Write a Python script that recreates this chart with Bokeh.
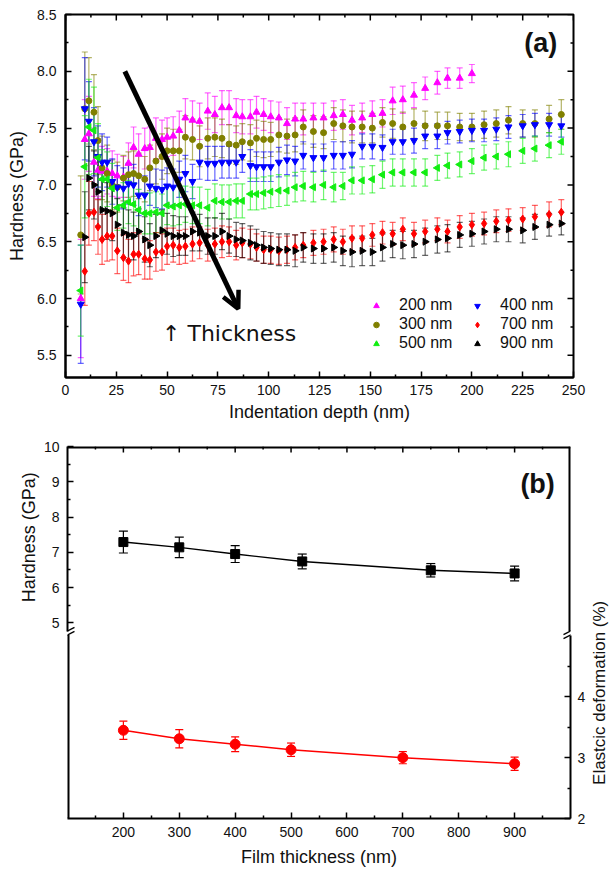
import math
from bokeh.plotting import figure
from bokeh.models import (ColumnDataSource, Range1d, LinearAxis, FixedTicker,
                          PrintfTickFormatter, Whisker, TeeHead, Legend,
                          LegendItem, Arrow, OpenHead, Label)
from bokeh.layouts import column, row
from bokeh.embed import file_html
from bokeh.resources import INLINE

# ---------------- panel (a) data ----------------
depth = [7.5, 9.5, 11.5, 14, 16, 18, 20.5, 23, 25.5, 28.5,
         31, 33.5, 36, 39, 41.5, 44.5, 47.5, 50, 53, 56,
         59, 62.5, 66, 70, 73.5, 77, 80.5, 84, 87, 91,
         94, 97.5, 101, 105, 109, 113, 117, 122, 127, 132,
         136.5, 141, 146, 151, 156, 161, 166, 171.5, 177, 183,
         188, 194, 200, 206, 212, 218, 225, 231, 238, 244]

h_200 = [6.00, 7.40, 7.45, 7.20, 7.13, 7.12, 7.12, 7.10, 7.08, 7.07,
         7.19, 7.33, 7.27, 7.32, 7.33, 7.41, 7.40, 7.42, 7.43, 7.48,
         7.59, 7.57, 7.56, 7.65, 7.62, 7.68, 7.68, 7.61, 7.60, 7.60,
         7.64, 7.62, 7.60, 7.59, 7.54, 7.58, 7.58, 7.59, 7.59, 7.61,
         7.62, 7.57, 7.59, 7.62, 7.63, 7.74, 7.75, 7.79, 7.85, 7.90,
         7.94, 7.94, 7.98]
e_200 = [0.52, 0.35, 0.33, 0.30, 0.25, 0.22, 0.20, 0.20, 0.19, 0.18,
         0.18, 0.18, 0.18, 0.18, 0.18, 0.18, 0.17, 0.17, 0.17, 0.17,
         0.17, 0.17, 0.16, 0.16, 0.16, 0.15, 0.15, 0.15, 0.15, 0.15,
         0.14, 0.14, 0.14, 0.14, 0.14, 0.14, 0.14, 0.13, 0.13, 0.13,
         0.13, 0.13, 0.13, 0.12, 0.12, 0.12, 0.12, 0.11, 0.10, 0.10,
         0.09, 0.09, 0.08]

h_300 = [6.56, 7.67, 7.74, 7.64, 7.39, 7.15, 7.10, 7.00, 6.98, 7.06,
         7.09, 7.10, 7.08, 7.05, 7.15, 7.21, 7.25, 7.30, 7.30, 7.30,
         7.42, 7.40, 7.34, 7.41, 7.42, 7.41, 7.36, 7.35, 7.38, 7.37,
         7.41, 7.40, 7.40, 7.44, 7.43, 7.44, 7.51, 7.47, 7.46, 7.54,
         7.52, 7.51, 7.51, 7.50, 7.55, 7.54, 7.51, 7.54, 7.52, 7.52,
         7.52, 7.51, 7.51, 7.53, 7.54, 7.57, 7.54, 7.54, 7.58, 7.62]
e_300 = [0.52, 0.50, 0.38, 0.33, 0.30, 0.28, 0.25, 0.22, 0.22, 0.20,
         0.20, 0.20, 0.20, 0.20, 0.20, 0.20, 0.20, 0.20, 0.19, 0.19,
         0.19, 0.18, 0.18, 0.18, 0.17, 0.17, 0.17, 0.17, 0.16, 0.16,
         0.16, 0.16, 0.15, 0.15, 0.15, 0.15, 0.15, 0.14, 0.14, 0.14,
         0.14, 0.14, 0.14, 0.13, 0.13, 0.13, 0.13, 0.13, 0.13, 0.12,
         0.12, 0.12, 0.12, 0.12, 0.12, 0.12, 0.12, 0.12, 0.12, 0.13]

h_400 = [5.95, 7.67, 7.56, 7.38, 7.25, 7.20, 7.20, 7.03, 6.98, 6.97,
         7.01, 7.00, 6.91, 6.91, 6.99, 6.97, 6.96, 6.99, 6.98, 7.05,
         7.10, 7.03, 7.20, 7.19, 7.19, 7.20, 7.20, 7.20, 7.25, 7.17,
         7.16, 7.16, 7.16, 7.20, 7.22, 7.21, 7.26, 7.24, 7.24, 7.26,
         7.26, 7.27, 7.34, 7.34, 7.33, 7.38, 7.38, 7.39, 7.43, 7.43,
         7.46, 7.47, 7.48, 7.48, 7.49, 7.51, 7.52, 7.53, 7.53, 7.52]
e_400 = [0.52, 0.45, 0.35, 0.30, 0.27, 0.25, 0.22, 0.20, 0.19, 0.18,
         0.18, 0.18, 0.18, 0.17, 0.17, 0.17, 0.17, 0.16, 0.16, 0.16,
         0.16, 0.15, 0.15, 0.15, 0.15, 0.14, 0.14, 0.14, 0.14, 0.14,
         0.13, 0.13, 0.13, 0.13, 0.13, 0.13, 0.12, 0.12, 0.12, 0.12,
         0.12, 0.12, 0.11, 0.11, 0.11, 0.11, 0.11, 0.11, 0.11, 0.11,
         0.10, 0.10, 0.10, 0.10, 0.10, 0.10, 0.10, 0.10, 0.10, 0.10]

h_500 = [6.07, 7.16, 7.51, 7.48, 7.24, 7.05, 7.05, 6.97, 6.80, 6.82,
         6.85, 6.83, 6.78, 6.75, 6.75, 6.76, 6.75, 6.82, 6.81, 6.82,
         6.83, 6.82, 6.82, 6.80, 6.86, 6.85, 6.85, 6.86, 6.86, 6.92,
         6.92, 6.93, 6.94, 6.95, 6.95, 6.98, 6.99, 6.98, 7.00, 6.98,
         6.99, 7.04, 7.04, 7.05, 7.09, 7.11, 7.11, 7.11, 7.11, 7.15,
         7.17, 7.18, 7.21, 7.24, 7.25, 7.27, 7.30, 7.32, 7.35, 7.38]
e_500 = [0.40, 0.45, 0.42, 0.38, 0.30, 0.26, 0.24, 0.22, 0.20, 0.20,
         0.19, 0.19, 0.18, 0.18, 0.18, 0.18, 0.17, 0.17, 0.17, 0.17,
         0.16, 0.16, 0.16, 0.16, 0.15, 0.15, 0.15, 0.15, 0.15, 0.14,
         0.14, 0.14, 0.14, 0.14, 0.13, 0.13, 0.13, 0.13, 0.13, 0.13,
         0.12, 0.12, 0.12, 0.12, 0.12, 0.12, 0.12, 0.12, 0.12, 0.11,
         0.11, 0.11, 0.11, 0.11, 0.11, 0.11, 0.11, 0.11, 0.11, 0.11]

# 700 nm and 900 nm start at the second depth
h_700 = [6.24, 6.75, 6.76, 6.63, 6.52, 6.55, 6.55, 6.42, 6.36,
         6.33, 6.39, 6.39, 6.35, 6.34, 6.41, 6.41, 6.46, 6.47, 6.45,
         6.46, 6.48, 6.49, 6.47, 6.48, 6.50, 6.50, 6.47, 6.49, 6.48,
         6.45, 6.43, 6.43, 6.42, 6.43, 6.45, 6.47, 6.49, 6.50, 6.52,
         6.50, 6.53, 6.53, 6.56, 6.58, 6.57, 6.61, 6.57, 6.59, 6.61,
         6.59, 6.63, 6.65, 6.66, 6.68, 6.69, 6.70, 6.72, 6.74, 6.76]
e_700 = [0.30, 0.28, 0.25, 0.24, 0.22, 0.22, 0.21, 0.20, 0.20,
         0.19, 0.19, 0.18, 0.18, 0.17, 0.17, 0.16, 0.16, 0.15, 0.15,
         0.15, 0.15, 0.14, 0.14, 0.14, 0.14, 0.13, 0.13, 0.13, 0.13,
         0.12, 0.12, 0.12, 0.12, 0.12, 0.11, 0.11, 0.11, 0.11, 0.11,
         0.11, 0.11, 0.11, 0.10, 0.10, 0.10, 0.10, 0.10, 0.10, 0.10,
         0.10, 0.10, 0.10, 0.10, 0.10, 0.10, 0.10, 0.10, 0.11, 0.11]

h_900 = [6.54, 7.06, 7.00, 6.94, 6.78, 6.77, 6.75, 6.65, 6.58,
         6.56, 6.55, 6.59, 6.52, 6.47, 6.55, 6.60, 6.57, 6.55, 6.55,
         6.55, 6.59, 6.58, 6.55, 6.55, 6.59, 6.55, 6.52, 6.51, 6.49,
         6.47, 6.45, 6.44, 6.43, 6.43, 6.42, 6.45, 6.44, 6.44, 6.45,
         6.42, 6.41, 6.42, 6.41, 6.45, 6.48, 6.47, 6.48, 6.50, 6.52,
         6.53, 6.56, 6.57, 6.59, 6.61, 6.61, 6.60, 6.63, 6.65, 6.66]
e_900 = [0.40, 0.28, 0.30, 0.30, 0.26, 0.25, 0.24, 0.23, 0.22,
         0.22, 0.21, 0.20, 0.20, 0.19, 0.19, 0.18, 0.18, 0.18, 0.17,
         0.17, 0.17, 0.16, 0.16, 0.16, 0.16, 0.15, 0.15, 0.15, 0.15,
         0.14, 0.14, 0.14, 0.14, 0.14, 0.14, 0.13, 0.13, 0.13, 0.13,
         0.13, 0.13, 0.13, 0.12, 0.12, 0.12, 0.12, 0.12, 0.12, 0.12,
         0.12, 0.11, 0.11, 0.11, 0.11, 0.11, 0.11, 0.11, 0.10, 0.10]

# ---------------- panel (b) data ----------------
thick_h = [200, 300, 400, 520, 750, 900]
hard_b = [7.29, 7.14, 6.95, 6.74, 6.49, 6.40]
hard_b_err = [0.31, 0.29, 0.24, 0.21, 0.19, 0.21]
thick_e = [200, 300, 400, 500, 700, 900]
elastic = [3.45, 3.31, 3.22, 3.13, 3.00, 2.90]
elastic_err = [0.15, 0.15, 0.12, 0.11, 0.10, 0.11]

# ---------------- ticks ----------------
a_x_major = [0, 25, 50, 75, 100, 125, 150, 175, 200, 225, 250]
a_x_minor = [12.5, 37.5, 62.5, 87.5, 112.5, 137.5, 162.5, 187.5, 212.5, 237.5]
a_y_major = [5.5, 6.0, 6.5, 7.0, 7.5, 8.0, 8.5]
a_y_minor = [5.75, 6.25, 6.75, 7.25, 7.75, 8.25]
b_x_major = [200, 300, 400, 500, 600, 700, 800, 900]
b_x_minor = [150, 250, 350, 450, 550, 650, 750, 850, 950]
b_left_major = [5, 6, 7, 8, 9, 10]
b_left_minor = [5.5, 6.5, 7.5, 8.5, 9.5]
b_right_major = [2, 3, 4]
b_right_minor = [2.5, 3.5, 4.5]

# trend arrow (depth, hardness)
arrow_start = (29.2, 8.0)
arrow_end = (85.0, 5.91)

FONT = "Liberation Sans"
TXT = "#111111"
MAJ, MIN = 6, 3   # inward tick lengths, px


def style_axis(ax):
    ax.axis_line_width = 2
    ax.axis_line_color = "black"
    ax.major_tick_in = MAJ
    ax.major_tick_out = 0
    ax.minor_tick_in = MIN
    ax.minor_tick_out = 0
    ax.major_tick_line_width = 1.5
    ax.minor_tick_line_width = 1.5
    ax.major_tick_line_color = "black"
    ax.minor_tick_line_color = "black"
    ax.major_label_text_font = FONT
    ax.major_label_text_font_size = "14px"
    ax.major_label_text_color = TXT
    ax.axis_label_text_font = FONT
    ax.axis_label_text_font_size = "18px"
    ax.axis_label_text_font_style = "normal"
    ax.axis_label_text_color = TXT


def add_errorbars(p, xs, ys, es, color, head, alpha=0.6, width=1.2, y_range_name="default"):
    src = ColumnDataSource(dict(x=xs, up=[y + e for y, e in zip(ys, es)],
                                lo=[y - e for y, e in zip(ys, es)]))
    w = Whisker(base="x", upper="up", lower="lo", source=src,
                line_color=color, line_alpha=alpha, line_width=width,
                upper_head=TeeHead(size=head, line_color=color, line_alpha=alpha, line_width=width),
                lower_head=TeeHead(size=head, line_color=color, line_alpha=alpha, line_width=width),
                level="underlay", y_range_name=y_range_name)
    p.add_layout(w)


def inner_ticks_x(p, xs, y_edge, length):
    p.segment(x0=xs, y0=[y_edge] * len(xs), x1=xs, y1=[y_edge + length] * len(xs),
              line_color="black", line_width=1.5)


def inner_ticks_y(p, ys, x_edge, length, y_range_name="default"):
    p.segment(x0=[x_edge] * len(ys), y0=ys, x1=[x_edge + length] * len(ys), y1=ys,
              line_color="black", line_width=1.5, y_range_name=y_range_name)


# ======================= panel (a) =======================
FW1, FH1 = 508, 363
A_X0, A_X1, A_Y0, A_Y1 = 0, 250, 5.305, 8.5
ax_pp = (A_X1 - A_X0) / FW1
ay_pp = (A_Y1 - A_Y0) / FH1

p1 = figure(width=609, height=426, output_backend="svg", toolbar_location=None,
            x_range=Range1d(A_X0, A_X1), y_range=Range1d(A_Y0, A_Y1),
            min_border_left=65, min_border_right=36, min_border_top=14, min_border_bottom=49,
            x_axis_label="Indentation depth (nm)", y_axis_label="Hardness (GPa)")
p1.xgrid.visible = False
p1.ygrid.visible = False
p1.outline_line_color = "black"
p1.outline_line_width = 2

xa = p1.xaxis[0]
xa.ticker = FixedTicker(ticks=a_x_major, minor_ticks=a_x_minor)
style_axis(xa)
xa.major_label_standoff = 7
xa.axis_label_standoff = 4
ya = p1.yaxis[0]
ya.ticker = FixedTicker(ticks=a_y_major, minor_ticks=a_y_minor)
ya.formatter = PrintfTickFormatter(format="%.1f")
style_axis(ya)
ya.major_label_standoff = 9
ya.axis_label_standoff = 7

inner_ticks_x(p1, a_x_major, A_Y1, -MAJ * ay_pp)
inner_ticks_x(p1, a_x_minor, A_Y1, -MIN * ay_pp)
inner_ticks_y(p1, a_y_major, A_X1, -MAJ * ax_pp)
inner_ticks_y(p1, a_y_minor, A_X1, -MIN * ax_pp)

specs = [
    ("200 nm", depth[:len(h_200)], h_200, e_200, "triangle", "#ff00ff", 0.0, 7),
    ("300 nm", depth, h_300, e_300, "circle", "#808000", 0.0, 6),
    ("400 nm", depth, h_400, e_400, "inverted_triangle", "#0000ff", 0.0, 7),
    ("500 nm", depth, h_500, e_500, "triangle", "#11ee11", math.pi / 2, 7),
    ("700 nm", depth[1:], h_700, e_700, "diamond", "#ff0000", 0.0, 8),
    ("900 nm", depth[1:], h_900, e_900, "triangle", "#000000", -math.pi / 2, 7),
]
rend = {}
for lab, xs, ys, es, mk, col, ang, sz in specs:
    assert len(xs) == len(ys) == len(es), lab
    add_errorbars(p1, xs, ys, es, col, head=6)
    r = p1.scatter(x=xs, y=ys, marker=mk, size=sz, angle=ang,
                   fill_color=col, line_color=col)
    rend[lab] = r

leg_common = dict(orientation="vertical", padding=0, margin=0, border_line_color=None,
                  background_fill_alpha=0, glyph_width=14, glyph_height=15,
                  label_standoff=16, spacing=1, label_height=17,
                  label_text_font=FONT, label_text_font_size="16px", label_text_color=TXT)
leg1 = Legend(items=[LegendItem(label=l, renderers=[rend[l]]) for l in ["200 nm", "300 nm", "500 nm"]],
              location=(304, 25), **leg_common)
leg2 = Legend(items=[LegendItem(label=l, renderers=[rend[l]]) for l in ["400 nm", "700 nm", "900 nm"]],
              location=(405, 25), **leg_common)
p1.add_layout(leg1)
p1.add_layout(leg2)

p1.add_layout(Arrow(end=OpenHead(size=17, line_width=4.5, line_color="black"),
                    x_start=arrow_start[0], y_start=arrow_start[1],
                    x_end=arrow_end[0], y_end=arrow_end[1],
                    line_width=5, line_color="black"))
p1.add_layout(Label(x=47.5, y=5.69, text="\u2191 Thickness", text_font="DejaVu Sans",
                    text_font_size="22px", text_color=TXT, text_align="left",
                    text_baseline="middle"))
p1.add_layout(Label(x=242.0, y=8.25, text="(a)", text_font=FONT, text_font_size="27px",
                    text_font_style="bold", text_color=TXT, text_align="right",
                    text_baseline="middle"))

# ======================= panel (b) =======================
B_H = 447                     # height of the lower row
B_TOP = 426                   # page y where the lower row starts
LW, RW = 40, 21               # side strips carrying the vertical titles
FW2, FH2 = 505, 372
h_per_px = 1.0 / 35.26        # GPa per pixel
e_per_px = 1.0 / 60.85        # % per pixel
h_lo = 10 - FH2 * h_per_px
e_hi = 2 + FH2 * e_per_px
x_per_px = (1000 - 100) / FW2
GAP_TOP, GAP_BOT = 184.5, 188.5   # px below frame top where the axis break lies
h_gap_top = 10 - GAP_TOP * h_per_px
h_gap_bot = 10 - GAP_BOT * h_per_px
e_gap_bot = 2 + (FH2 - GAP_BOT) * e_per_px

p2 = figure(width=609 - LW - RW, height=B_H, output_backend="svg", toolbar_location=None,
            x_range=Range1d(100, 1000), y_range=Range1d(h_lo, 10),
            min_border_left=66 - LW, min_border_right=609 - RW - 66 - FW2,
            min_border_top=20, min_border_bottom=55,
            x_axis_label="Film thickness (nm)")
p2.extra_y_ranges = {"el": Range1d(2, e_hi)}
p2.xgrid.visible = False
p2.ygrid.visible = False
p2.outline_line_color = None

xb = p2.xaxis[0]
xb.ticker = FixedTicker(ticks=b_x_major, minor_ticks=b_x_minor)
style_axis(xb)
xb.major_label_standoff = 8
xb.axis_label_standoff = 7
yb = p2.yaxis[0]
yb.ticker = FixedTicker(ticks=b_left_major, minor_ticks=b_left_minor)
yb.bounds = (h_gap_top, 10)
style_axis(yb)
yb.major_label_standoff = 8

right2 = LinearAxis(y_range_name="el",
                    ticker=FixedTicker(ticks=b_right_major, minor_ticks=b_right_minor))
right2.bounds = (2, e_gap_bot)
style_axis(right2)
right2.major_label_standoff = 7
p2.add_layout(right2, "right")

# remaining frame edges (top, upper-right, lower-left) and top ticks
edge = dict(line_color="black", line_width=4)
p2.segment(x0=[100], y0=[10], x1=[1000], y1=[10], **edge)
p2.segment(x0=[1000], y0=[h_gap_top], x1=[1000], y1=[10], **edge)
p2.segment(x0=[100], y0=[h_lo], x1=[100], y1=[h_gap_bot], **edge)
inner_ticks_x(p2, b_x_major, 10, -MAJ * h_per_px)
inner_ticks_x(p2, b_x_minor, 10, -MIN * h_per_px)

# axis-break marks
for bx in (100, 1000):
    for gp in (GAP_TOP, GAP_BOT):
        yc = 10 - gp * h_per_px
        p2.segment(x0=[bx - 7 * x_per_px], y0=[yc - 3.6 * h_per_px],
                   x1=[bx + 7 * x_per_px], y1=[yc + 3.6 * h_per_px],
                   line_color="black", line_width=1.4)

add_errorbars(p2, thick_h, hard_b, hard_b_err, "black", head=9, alpha=1.0, width=1.2)
p2.line(x=thick_h, y=hard_b, line_color="black", line_width=1.4)
p2.scatter(x=thick_h, y=hard_b, marker="square", size=9, fill_color="black", line_color="black")

add_errorbars(p2, thick_e, elastic, elastic_err, "#ff0000", head=8, alpha=1.0, width=1.2, y_range_name="el")
p2.line(x=thick_e, y=elastic, line_color="#ff0000", line_width=1.5, y_range_name="el")
p2.scatter(x=thick_e, y=elastic, marker="circle", size=10, fill_color="#ff0000",
           line_color="#ff0000", y_range_name="el")

p2.add_layout(Label(x=972, y=8.94, text="(b)", text_font=FONT, text_font_size="27px",
                    text_font_style="bold", text_color=TXT, text_align="right",
                    text_baseline="middle"))


def title_strip(width, x0, text, x_c, y_c, size):
    # narrow strip whose data units are page pixels, carrying one vertical title
    s = figure(width=width, height=B_H, output_backend="svg", toolbar_location=None,
               x_range=Range1d(x0, x0 + width), y_range=Range1d(B_TOP + B_H, B_TOP),
               x_axis_location=None, y_axis_location=None, min_border=0)
    s.outline_line_color = None
    s.grid.visible = False
    s.add_layout(Label(x=x_c, y=y_c, text=text, angle=90, angle_units="deg",
                       text_font=FONT, text_font_size=size, text_color=TXT,
                       text_align="center", text_baseline="middle"))
    return s


pL = title_strip(LW, 0, "Hardness (GPa)", 28, 535, "18px")
pR = title_strip(RW, 609 - RW, "Elastcic deformation (%)", 598.5, 722, "17px")

layout = column(p1, row(pL, p2, pR))
open("out.html", "w").write(file_html(layout, INLINE))
